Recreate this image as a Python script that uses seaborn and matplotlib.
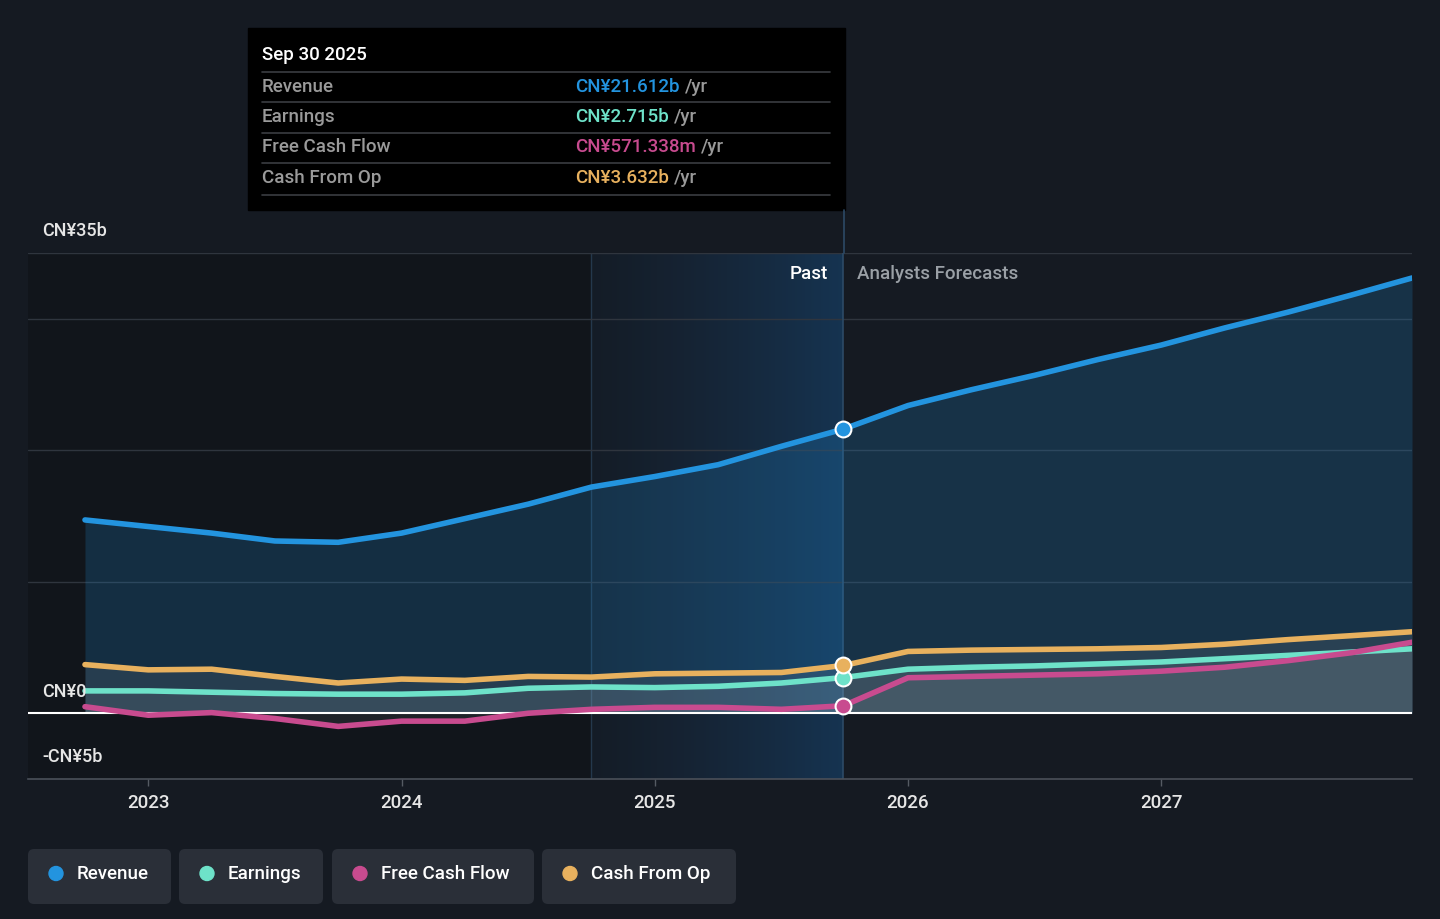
import numpy as np
import pandas as pd
import seaborn as sns
import matplotlib.pyplot as plt
from matplotlib.patches import FancyBboxPatch, Rectangle, Circle
from matplotlib.colors import LinearSegmentedColormap

# decimal years, quarterly; last point is end of 2027
years = [2022.75, 2023.0, 2023.25, 2023.5, 2023.75, 2024.0, 2024.25, 2024.5, 2024.75,
         2025.0, 2025.25, 2025.5, 2025.745,
         2026.0, 2026.25, 2026.5, 2026.75, 2027.0, 2027.25, 2027.5, 2027.75, 2027.99]
revenue = [14.7, 14.2, 13.7, 13.1, 13.0, 13.7, 14.8, 15.9, 17.2, 18.0, 18.9, 20.3, 21.612,
           23.4, 24.6, 25.7, 26.9, 28.0, 29.3, 30.5, 31.8, 33.1]
earnings = [1.7, 1.7, 1.6, 1.5, 1.45, 1.45, 1.55, 1.9, 2.0, 1.95, 2.05, 2.3, 2.715,
            3.35, 3.5, 3.6, 3.75, 3.9, 4.15, 4.4, 4.65, 4.9]
fcf = [0.5, -0.15, 0.05, -0.4, -1.0, -0.6, -0.6, 0.0, 0.3, 0.45, 0.45, 0.3, 0.571,
       2.7, 2.8, 2.9, 3.0, 3.2, 3.5, 4.0, 4.6, 5.4]
cfo = [3.7, 3.3, 3.35, 2.8, 2.3, 2.6, 2.5, 2.8, 2.75, 3.0, 3.05, 3.1, 3.632,
       4.7, 4.8, 4.85, 4.9, 5.0, 5.25, 5.6, 5.9, 6.2]

series_names = ["Revenue", "Earnings", "Free Cash Flow", "Cash From Op"]
series_colors = ["#2394df", "#6ee2c9", "#c84b8f", "#e8b15e"]
tip_values = ["CN¥21.612b", "CN¥2.715b", "CN¥571.338m", "CN¥3.632b"]
tip_date = "Sep 30 2025"
past_end = 2025.745
past_start = 2024.75
x_ticks = [2023, 2024, 2025, 2026, 2027]
y_labels = {35: "CN¥35b", 0: "CN¥0", -5: "-CN¥5b"}

bg = "#151a22"
sns.set_theme(style="dark")
plt.rcParams["font.family"] = ["Roboto", "DejaVu Sans"]
plt.rcParams["font.weight"] = "medium"

df = pd.DataFrame({"year": years, "Revenue": revenue, "Earnings": earnings,
                   "Free Cash Flow": fcf, "Cash From Op": cfo})
long = df.melt(id_vars="year", var_name="series", value_name="value")

fig = plt.figure(figsize=(14.4, 9.19), dpi=100, facecolor=bg)
W, H = 1440, 919
ax = fig.add_axes([28 / W, 1 - 779 / H, (1412 - 28) / W, (779 - 253) / H])
ax.set_facecolor(bg)
x0, x1 = 2022.525, 2027.99
ax.set_xlim(x0, x1)
ax.set_ylim(-5, 35)

# darker area before the highlighted past year
ax.axvspan(x0, past_start, color="#000000", alpha=0.18, lw=0, zorder=0)
# gradient for past year
grad = np.linspace(0, 1, 256).reshape(1, -1)
cmap = LinearSegmentedColormap.from_list("pg", [(0.08, 0.2, 0.32, 0.1), (0.09, 0.26, 0.42, 0.65)])
ax.imshow(grad, extent=[past_start, past_end, -5, 35], aspect="auto", cmap=cmap, zorder=0.5)
ax.axvline(past_start, color="#24384c", lw=1, zorder=1)

for g in [10, 20, 30, 35]:
    ax.axhline(g, color="#2f353e", lw=1, zorder=1)

# fills
ax.fill_between(years, 0, revenue, color="#2394df", alpha=0.2, lw=0, zorder=2)
ax.fill_between(years, 0, cfo, color="#b0b0b0", alpha=0.12, lw=0, zorder=2.1)
ax.fill_between(years, 0, earnings, color="#c8c8c8", alpha=0.10, lw=0, zorder=2.2)
ax.fill_between(years, 0, fcf, color="#d0d0d0", alpha=0.08, lw=0, zorder=2.3)

ax.axhline(0, color="white", lw=1.5, zorder=3)

sns.lineplot(data=long, x="year", y="value", hue="series", hue_order=series_names,
             palette=series_colors, linewidth=4, legend=False, ax=ax, zorder=4)
for line in ax.get_lines()[-4:]:
    line.set_solid_capstyle("round")
    line.set_solid_joinstyle("round")

idx = years.index(past_end)
for vals, c in zip([revenue, earnings, fcf, cfo], series_colors):
    ax.scatter([past_end], [vals[idx]], s=130, color=c, edgecolor="white", linewidth=1.5, zorder=6)

ax.axvline(past_end, color="#2c4a66", lw=1.2, zorder=1.5)

ax.text(past_end - 0.06, 33.4, "Past", color="white", fontsize=13.5, ha="right", va="center", zorder=7)
ax.text(past_end + 0.055, 33.4, "Analysts Forecasts", color="#9aa0a6", fontsize=13.5,
        ha="left", va="center", zorder=7)

for v, lab in y_labels.items():
    ax.annotate(lab, xy=(14 / 1384, v), xycoords=("axes fraction", "data"),
                xytext=(0, 15.5), textcoords="offset points", color="#e6e6e6",
                fontsize=13, ha="left", va="center", zorder=7)

ax.set_xticks(x_ticks)
ax.set_xticklabels([str(t) for t in x_ticks])
ax.set_yticks([])
ax.tick_params(axis="x", colors="#e6e6e6", labelsize=13.5, length=5, width=1, pad=6,
               color="#555b63", bottom=True)
ax.set_xlabel("")
ax.set_ylabel("")
for s in ["top", "left", "right"]:
    ax.spines[s].set_visible(False)
ax.spines["bottom"].set_color("#4a5059")
ax.spines["bottom"].set_linewidth(1.2)
ax.grid(False)

# overlay in pixel coordinates for tooltip and legend
ov = fig.add_axes([0, 0, 1, 1], zorder=10)
ov.set_xlim(0, W)
ov.set_ylim(H, 0)
ov.axis("off")
ov.patch.set_alpha(0)

ov.plot([843.5, 843.5], [210, 253], color="#2c4a66", lw=1.2)
ov.add_patch(Rectangle((248, 28), 597, 182, color="black"))
ov.text(262, 55, tip_date, color="white", fontsize=13.5, va="center", ha="left")
for yy in [72, 102, 133, 163, 195]:
    ov.plot([262, 830], [yy, yy], color="#3a3d42", lw=1.2)
renderer = fig.canvas.get_renderer()
for i, (name, val, c) in enumerate(zip(series_names, tip_values, series_colors)):
    yy = 86.5 + i * 30.5
    ov.text(262, yy, name, color="#9a9a9a", fontsize=13.5, va="center", ha="left")
    t = ov.text(575, yy, val, color=c, fontsize=13.5, va="center", ha="left")
    bb = t.get_window_extent(renderer=renderer)
    ov.text(bb.x1 + 5, yy, "/yr", color="#9a9a9a", fontsize=13.5, va="center", ha="left")

buttons = [(28, 171), (179, 323), (332, 534), (542, 736)]
for (bx0, bx1), name, c in zip(buttons, series_names, series_colors):
    ov.add_patch(FancyBboxPatch((bx0, 849), bx1 - bx0, 55,
                                boxstyle="round,pad=0,rounding_size=6",
                                facecolor="#2a2f38", edgecolor="none"))
    ov.add_patch(Circle((bx0 + 28, 873.5), 7, color=c))
    ov.text(bx0 + 49, 874, name, color="white", fontsize=13.5, va="center", ha="left")

fig.savefig("out.png", dpi=100, facecolor=bg)
